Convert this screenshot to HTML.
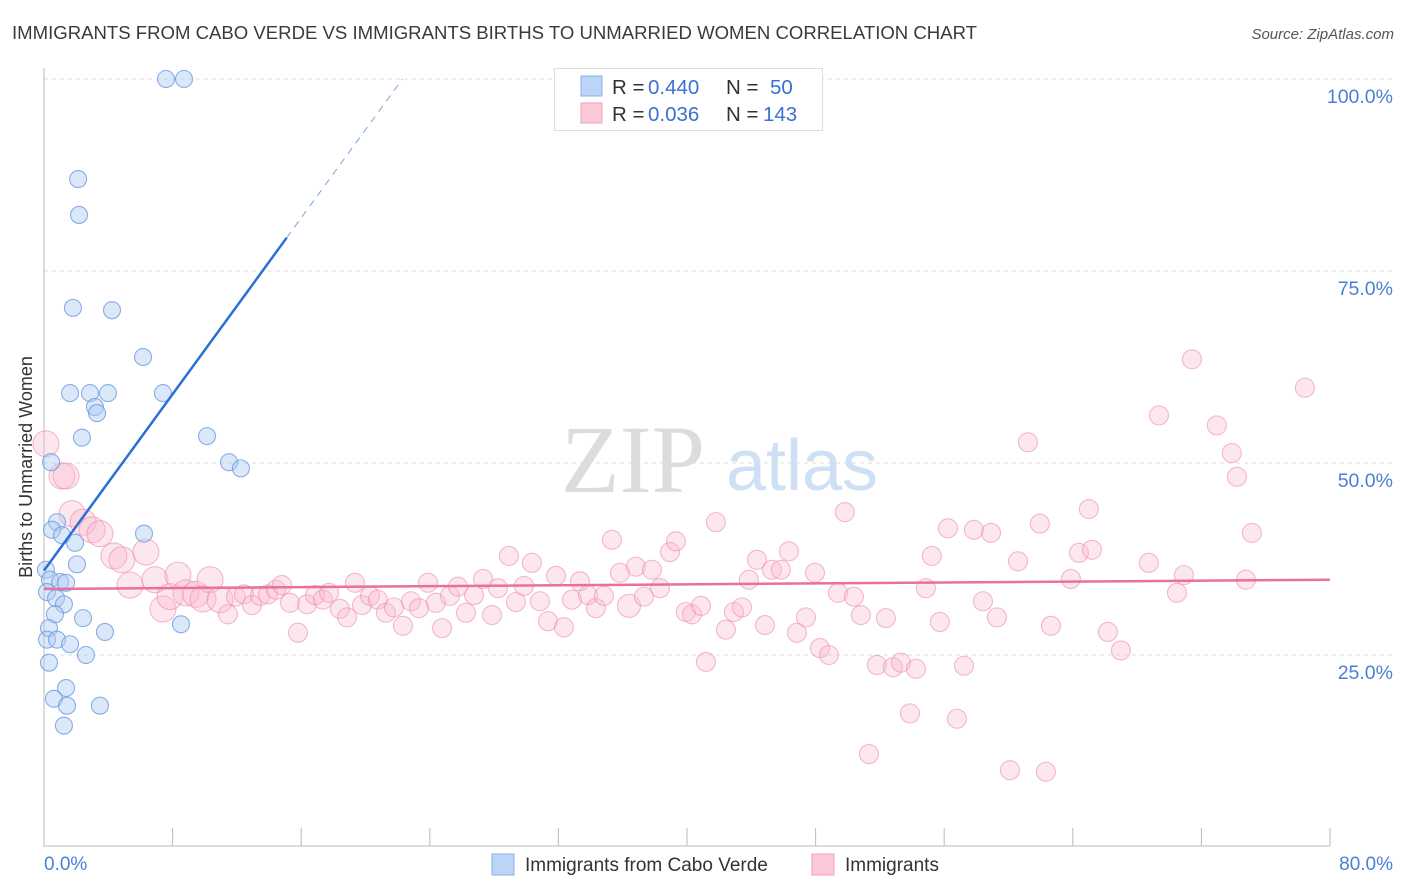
<!DOCTYPE html>
<html><head><meta charset="utf-8"><style>
body{margin:0;background:#fff;font-family:"Liberation Sans",sans-serif;}
#wrap{position:relative;width:1406px;height:892px;overflow:hidden;}
</style></head><body>
<div id="wrap">
<svg id="svg" width="1406" height="892" xmlns="http://www.w3.org/2000/svg">
<text x="12" y="39" font-size="18" fill="#3a3a3a" textLength="965" lengthAdjust="spacingAndGlyphs">IMMIGRANTS FROM CABO VERDE VS IMMIGRANTS BIRTHS TO UNMARRIED WOMEN CORRELATION CHART</text>
<text x="1394" y="39" font-size="15" fill="#555" font-style="italic" text-anchor="end">Source: ZipAtlas.com</text>
<g id="grid"></g>
<g>
<text x="633" y="492" font-family="Liberation Serif,serif" font-size="96" fill="#dcdcdc" text-anchor="middle">ZIP</text>
<text x="802" y="490" font-size="72" fill="#cfe0f5" text-anchor="middle">atlas</text>
</g>
<g id="axes"></g>
<g id="pts"></g>
<g id="trend"></g>
<text x="20" y="455" font-size="18" fill="#333" text-anchor="middle" transform="rotate(-90 32 455)">Births to Unmarried Women</text>
<g>
<rect x="554.5" y="68.5" width="268" height="62" fill="#fff" stroke="#ddd"/>
<rect x="581" y="76" width="21" height="20" fill="#bcd4f5" stroke="#8ab0e8"/>
<rect x="581" y="103" width="21" height="20" fill="#fbc9d8" stroke="#f0a0b8"/>
<text x="612" y="94" font-size="20.5" fill="#333">R = <tspan x="648" fill="#3a70d0">0.440</tspan><tspan x="726">N = </tspan><tspan x="770" fill="#3a70d0">50</tspan></text>
<text x="612" y="121" font-size="20.5" fill="#333">R = <tspan x="648" fill="#3a70d0">0.036</tspan><tspan x="726">N = </tspan><tspan x="763" fill="#3a70d0">143</tspan></text>
</g>
<g>
<rect x="492" y="854" width="22" height="21" fill="#bcd4f5" stroke="#8ab0e8"/>
<text x="525" y="871" font-size="19" fill="#333">Immigrants from Cabo Verde</text>
<rect x="812" y="854" width="22" height="21" fill="#fbc9d8" stroke="#f0a0b8"/>
<text x="845" y="871" font-size="19" fill="#333">Immigrants</text>
</g>
</svg>
</div>
<script>
const yTicks=[25,50,75,100];
const yTickLabels=["25.0%","50.0%","75.0%","100.0%"];
const xTickLabels=["0.0%","80.0%"];
const blueX=[7.59,8.71,2.12,2.18,1.80,4.23,6.16,1.62,2.86,3.98,7.40,3.17,3.30,2.36,10.14,11.51,12.25,0.44,0.81,0.50,1.12,1.93,6.22,2.05,0.12,0.37,1.0,1.37,0.19,0.75,1.24,2.43,0.68,8.52,3.79,0.31,0.19,0.81,1.62,2.61,0.31,1.37,0.62,1.43,3.48,1.24];
const blueY=[100,100,86.97,82.3,70.2,69.9,63.8,59.1,59.1,59.1,59.1,57.3,56.5,53.3,53.5,50.1,49.3,50.1,42.3,41.3,40.6,39.6,40.8,36.8,36.1,34.8,34.5,34.4,33.2,32.4,31.6,29.8,30.3,29.0,28.0,28.5,27.0,27.0,26.4,25.0,24.0,20.7,19.3,18.4,18.4,15.8];
const pinkX=[0.12,1.12,1.37,1.74,2.43,2.99,3.48,4.35,4.85,6.34,5.35,6.90,7.40,8.33,7.84,8.83,9.45,10.33,9.89,10.95,11.44,11.94,12.44,12.94,13.44,13.93,14.43,14.80,15.30,15.80,16.36,16.86,17.35,17.73,18.41,18.85,19.34,19.78,20.28,20.77,21.27,21.77,22.33,22.83,23.33,23.89,24.38,24.76,25.25,25.75,26.25,26.75,27.31,27.87,28.24,28.92,29.36,29.86,30.35,30.85,31.35,31.85,32.34,32.84,33.34,33.84,34.33,34.83,35.33,35.83,36.39,36.82,37.32,37.82,38.32,38.94,39.31,39.93,40.31,40.87,41.18,41.80,42.42,42.92,43.42,43.85,44.35,44.85,45.28,45.84,46.34,46.84,47.40,47.96,48.27,48.83,49.39,49.82,50.38,50.82,51.32,51.81,52.37,52.81,53.31,53.87,54.24,54.86,55.23,55.73,56.23,56.79,57.23,57.85,58.41,58.91,59.28,60.09,60.59,61.21,61.95,62.33,62.64,63.88,64.38,65.00,65.19,66.18,66.99,68.73,69.36,70.48,70.91,71.41,72.96,73.89,74.21,74.77,75.14,78.44];
const pinkY=[52.5,48.3,48.3,43.4,42.3,41.3,40.8,37.9,37.4,38.4,34.1,34.8,31.0,35.4,32.6,33.1,32.9,34.8,32.3,32.2,30.3,32.6,32.9,31.5,32.7,32.9,33.5,34.1,31.8,27.9,31.6,32.8,32.2,33.1,31.0,29.9,34.4,31.5,32.7,32.2,30.5,31.2,28.8,32.0,31.1,34.4,31.8,28.5,32.7,33.9,30.5,32.8,34.9,30.2,33.7,37.9,31.9,34.0,37.0,32.0,29.4,35.3,28.6,32.2,34.6,32.8,31.1,32.7,40.0,35.7,31.4,36.5,32.6,36.1,33.7,38.4,39.8,30.6,30.3,31.4,24.1,42.3,28.3,30.6,31.2,34.8,37.4,28.9,36.1,36.1,38.5,27.9,29.9,35.7,25.9,25.0,33.1,43.6,32.6,30.2,12.1,23.7,29.8,23.4,24.0,17.4,23.2,33.7,37.9,29.3,41.5,16.7,23.6,41.3,32.0,40.9,29.9,10.0,37.2,52.7,42.1,9.8,28.8,34.9,38.3,44.0,38.7,28.0,25.6,37.0,56.2,33.1,35.4,63.5,54.9,51.3,48.2,34.8,40.9,59.8];
const blueTrend=[36,2.87];   // intercept, slope (%)
const blueSolidEnd=15.1;
const pinkTrend=[33.6,0.015];

const NS="http://www.w3.org/2000/svg";
const X0=44,X1=1330,Y0=847,YS=7.68;
const sx=v=>X0+v*(X1-X0)/80;
const sy=v=>Y0-v*YS;
function mk(tag,attrs,parent){const e=document.createElementNS(NS,tag);for(const k in attrs)e.setAttribute(k,attrs[k]);parent.appendChild(e);return e;}
const grid=document.getElementById('grid'),axes=document.getElementById('axes'),pts=document.getElementById('pts'),trend=document.getElementById('trend');
yTicks.forEach((t,i)=>{
  const l=mk('line',{x1:X0,x2:1393,y1:sy(t),y2:sy(t),stroke:'#dcdcdc','stroke-dasharray':'4,4'},grid);
  
  
  const tx=mk('text',{x:1393,y:sy(t)+24,'font-size':19.5,fill:'#4a7fd6','text-anchor':'end'},axes);
  tx.textContent=yTickLabels[i];
  
  
});
mk('line',{x1:X0,x2:X0,y1:68,y2:847,stroke:'#bbb'},axes);
mk('line',{x1:X0,x2:1330,y1:846,y2:846,stroke:'#bbb'},axes);
for(let k=0;k<=10;k++){
  const v=k*8;
  const t=mk('line',{x1:sx(v),x2:sx(v),y1:828,y2:846,stroke:'#bbb'},axes);
  
  
}
const xl0=mk('text',{x:44,y:870,'font-size':19,fill:'#4a7fd6'},axes);xl0.textContent=xTickLabels[0];


const xl1=mk('text',{x:1393,y:870,'font-size':19,fill:'#4a7fd6','text-anchor':'end'},axes);xl1.textContent=xTickLabels[1];



pinkX.forEach((x,i)=>{
  const r=x<11?13:(Math.abs(x-36.4)<0.1?11.5:9.5);
  const c=mk('circle',{cx:sx(x),cy:sy(pinkY[i]),r:r,fill:'rgba(250,185,205,0.35)',stroke:'rgba(238,140,172,0.6)','stroke-width':1.1},pts);
  
  
});
blueX.forEach((x,i)=>{
  const c=mk('circle',{cx:sx(x),cy:sy(blueY[i]),r:8.5,fill:'rgba(175,205,242,0.45)',stroke:'rgba(100,150,225,0.75)','stroke-width':1.1},pts);
  
  
});
const bx2=(100-blueTrend[0])/blueTrend[1];
const bs=mk('line',{x1:sx(0),y1:sy(blueTrend[0]),x2:sx(blueSolidEnd),y2:sy(blueTrend[0]+blueTrend[1]*blueSolidEnd),stroke:'#2a6fd6','stroke-width':2.5},trend);


const bd=mk('line',{x1:sx(blueSolidEnd),y1:sy(blueTrend[0]+blueTrend[1]*blueSolidEnd),x2:sx(bx2),y2:sy(100),stroke:'#7aa3e0','stroke-width':1,'stroke-dasharray':'7,6'},trend);


const pl=mk('line',{x1:sx(0),y1:sy(pinkTrend[0]),x2:sx(80),y2:sy(pinkTrend[0]+pinkTrend[1]*80),stroke:'#e8709a','stroke-width':2.5},trend);


</script>
</body></html>
